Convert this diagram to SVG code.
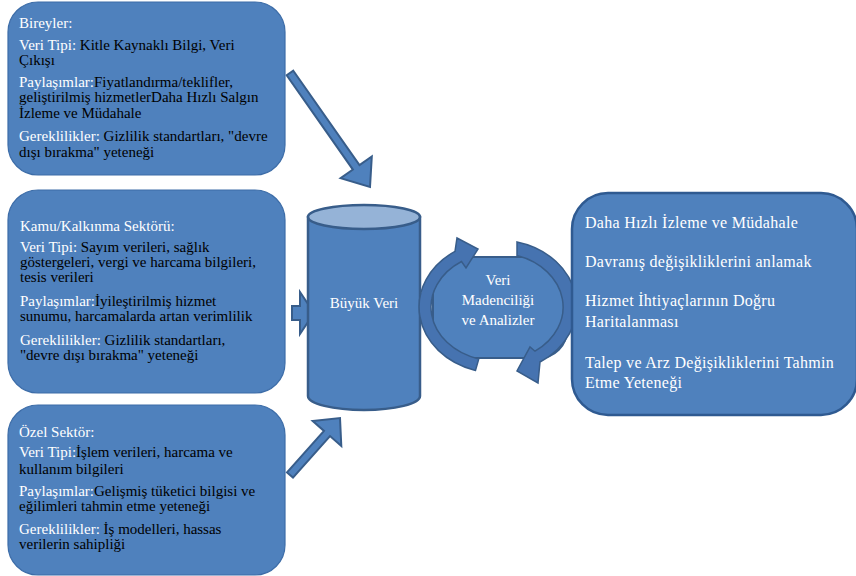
<svg xmlns="http://www.w3.org/2000/svg" width="856" height="576" viewBox="0 0 856 576">
<style>
.box{fill:#4F81BD;stroke:#3D6DA8;stroke-width:1.2}
.rbox{fill:#4F81BD;stroke:#2F5A91;stroke-width:2.5}
.arr{fill:#4F81BD;stroke:#385D8A;stroke-width:2;stroke-linejoin:miter}
.cyl{fill:#4F81BD;stroke:#385D8A;stroke-width:2.5}
.cyltop{fill:#95B3D7;stroke:#385D8A;stroke-width:2.5}
.circ{fill:#4673B0;stroke:#385D8A;stroke-width:1.5}
text{font-family:"Liberation Serif","Times New Roman",serif;font-size:15px;fill:#000}
.w{fill:#FFFFFF}
.c{text-anchor:middle}
.r{font-size:16px;letter-spacing:0.3px}
</style>
<rect width="856" height="576" fill="#FFFFFF"/>

<g id="connectors">
  <polygon class="arr" points="293.3,70.7 359.5,165.0 371.8,156.4 370,187 340.6,178.2 352.9,169.6 286.7,75.3"/>
  <polygon class="arr" points="292,306 300,306 300,292 314,313 300,334 300,320 292,320"/>
  <polygon class="arr" points="293,477.6 330,436.1 341.3,446 340,418 312.7,421 324,430.9 287,472.4"/>
</g>

<g id="bireyler">
  <rect class="box" x="8" y="2" width="277" height="173" rx="30"/>
  <text x="19" y="28" class="w">Bireyler:</text>
  <text x="19" y="49.5"><tspan class="w">Veri Tipi:</tspan> Kitle Kaynaklı Bilgi, Veri</text>
  <text x="19" y="64.5">Çıkışı</text>
  <text x="19" y="87"><tspan class="w">Paylaşımlar:</tspan>Fiyatlandırma/teklifler,</text>
  <text x="19" y="102">geliştirilmiş hizmetlerDaha Hızlı Salgın</text>
  <text x="19" y="118">İzleme ve Müdahale</text>
  <text x="19" y="141"><tspan class="w">Gereklilikler:</tspan> Gizlilik standartları, "devre</text>
  <text x="19" y="157">dışı bırakma" yeteneği</text>
</g>

<g id="kamu">
  <rect class="box" x="8" y="190" width="277" height="203" rx="30"/>
  <text x="20" y="231" class="w">Kamu/Kalkınma Sektörü:</text>
  <text x="20" y="252"><tspan class="w">Veri Tipi:</tspan> Sayım verileri, sağlık</text>
  <text x="20" y="267">göstergeleri, vergi ve harcama bilgileri,</text>
  <text x="20" y="282">tesis verileri</text>
  <text x="20" y="306"><tspan class="w">Paylaşımlar:</tspan>İyileştirilmiş hizmet</text>
  <text x="20" y="321">sunumu, harcamalarda artan verimlilik</text>
  <text x="20" y="345"><tspan class="w">Gereklilikler:</tspan> Gizlilik standartları,</text>
  <text x="20" y="360">"devre dışı bırakma" yeteneği</text>
</g>

<g id="ozel">
  <rect class="box" x="8" y="405" width="277" height="170" rx="30"/>
  <text x="19" y="437" class="w">Özel Sektör:</text>
  <text x="19" y="457"><tspan class="w">Veri Tipi:</tspan>İşlem verileri, harcama ve</text>
  <text x="19" y="474">kullanım bilgileri</text>
  <text x="19" y="496"><tspan class="w">Paylaşımlar:</tspan>Gelişmiş tüketici bilgisi ve</text>
  <text x="19" y="511">eğilimleri tahmin etme yeteneği</text>
  <text x="19" y="534"><tspan class="w">Gereklilikler:</tspan> İş modelleri, hassas</text>
  <text x="19" y="549">verilerin sahipliği</text>
</g>

<g id="buyuk-veri">
  <path class="cyl" d="M308,217 L308,396 A56,14 0 0 0 420,396 L420,217 Z"/>
  <ellipse class="cyltop" cx="364" cy="217" rx="56" ry="12"/>
  <text x="364" y="308" class="w c">Büyük Veri</text>
</g>

<g id="veri-madenciligi">
  <rect class="arr" x="433" y="257" width="134" height="101" rx="28"/>
  <path class="circ" d="M475.5,370.4 A78,66 0 0 1 455,251.4 L457,238 L478,249 L466,268 L461.5,261.5 A66,54 0 0 0 478.8,358.9 Z"/>
  <path class="circ" d="M517,242 A78,66 0 0 1 540,362 L538,383 L517,371 L530,347 L535,351.2 A66,54 0 0 0 517,255.5 Z"/>
  <text x="498" y="285" class="w c">Veri</text>
  <text x="498" y="305" class="w c">Madenciliği</text>
  <text x="498" y="325" class="w c">ve Analizler</text>
</g>

<g id="sonuclar">
  <rect class="rbox" x="572" y="193" width="285" height="222" rx="36"/>
  <text x="585" y="228" class="w r">Daha Hızlı İzleme ve Müdahale</text>
  <text x="585" y="267" class="w r">Davranış değişikliklerini anlamak</text>
  <text x="585" y="306" class="w r">Hizmet İhtiyaçlarının Doğru</text>
  <text x="585" y="327" class="w r">Haritalanması</text>
  <text x="585" y="368" class="w r">Talep ve Arz Değişikliklerini Tahmin</text>
  <text x="585" y="388" class="w r">Etme Yeteneği</text>
</g>
</svg>
